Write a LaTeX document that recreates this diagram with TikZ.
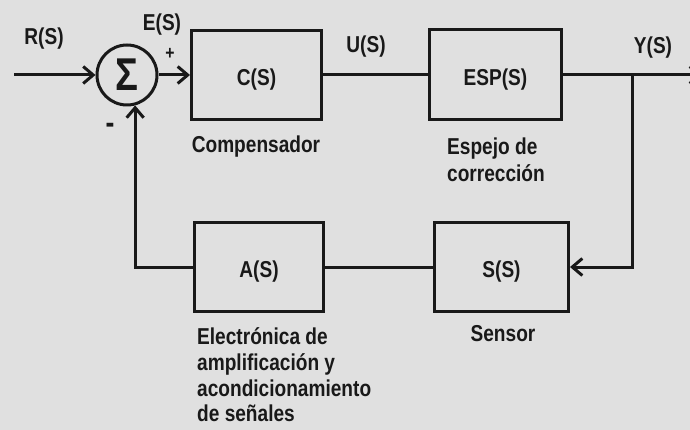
\documentclass[tikz,border=0pt]{standalone}
\usepackage{fontspec}
\setmainfont{Liberation Sans}[FakeStretch=0.83]
\usetikzlibrary{arrows.meta}
\definecolor{paper}{RGB}{224,224,224}
\definecolor{ink}{RGB}{25,25,25}
\begin{document}
\begin{tikzpicture}[x=1pt,y=-1pt,
  >={Straight Barb[length=10pt,width=17pt]},
  box/.style={draw=ink, rectangle, line width=3pt, inner sep=0pt, text height=21pt, text depth=0pt,
    font=\fontsize{23}{27}\selectfont\bfseries, text=ink},
  lbl/.style={font=\fontsize{23}{27}\selectfont\bfseries, text=ink, inner sep=0pt},
  conn/.style={draw=ink, line width=3pt}]
\fill[paper] (0,0) rectangle (690,430);
\useasboundingbox (0,0) rectangle (690,430);
\clip (0,0) rectangle (690,430);

% blocks
\node[box, minimum width=130pt, minimum height=89pt] (C) at (256.5,75) {C(S)};
\node[box, minimum width=132pt, minimum height=90pt] (E) at (495.5,75) {ESP(S)};
\node[box, minimum width=129pt, minimum height=89pt] (A) at (259,267) {A(S)};
\node[box, minimum width=134pt, minimum height=89pt] (Sn) at (501.5,267) {S(S)};
\node[circle, draw=ink, line width=3pt, minimum size=60pt, inner sep=0pt,
  font=\fontsize{46}{46}\selectfont\bfseries, text=ink] (sum) at (127,75) {Σ};

\coordinate (in) at (14,75);
\coordinate (out) at (702,75);
\coordinate (j) at (632,75);

% connectors
\draw[conn,->] (in) -- (sum.west);
\draw[conn,->] (sum.east) -- (C.west);
\draw[conn] (C.east) -- (E.west);
\draw[conn,->] (E.east) -- (out);
\draw[conn,->] (j) |- (Sn.east);
\draw[conn] (Sn.west) -- (A.east);
\draw[conn,->] (A.west) -| (sum.-75);

% labels
\node[lbl, anchor=base] (lR) at (44,45) {R(S)};
\node[lbl, anchor=base] (lE) at (162,31) {E(S)};
\node[lbl, anchor=base, font=\fontsize{19}{19}\selectfont\bfseries] (lp) at (170,60) {+};
\node[lbl, font=\fontsize{32}{32}\selectfont\bfseries] (lm) at (110,128) {-};
\node[lbl, anchor=base] (lU) at (366,53) {U(S)};
\node[lbl, anchor=base] (lY) at (653,54) {Y(S)};
\node[lbl, anchor=base] (lC) at (256,153) {Compensador};
\node[lbl, anchor=base west] (lE1) at (447,155) {Espejo de};
\node[lbl, anchor=base west] (lE2) at (447,182) {corrección};
\node[lbl, anchor=base] (lS) at (503,341) {Sensor};
\node[lbl, anchor=base west] (lA1) at (197,344) {Electrónica de};
\node[lbl, anchor=base west] (lA2) at (197,370) {amplificación y};
\node[lbl, anchor=base west] (lA3) at (197,396) {acondicionamiento};
\node[lbl, anchor=base west] (lA4) at (197,421) {de señales};
\end{tikzpicture}
\end{document}
